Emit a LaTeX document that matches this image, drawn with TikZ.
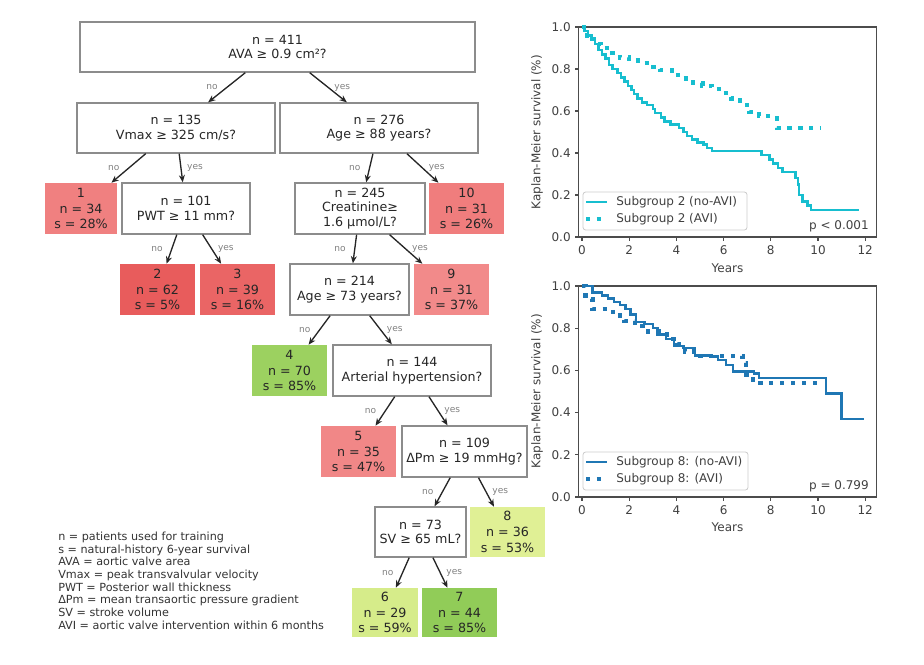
\documentclass[tikz,border=0pt]{standalone}
\usepackage{fontspec}
\setmainfont{DejaVu Sans}
\usetikzlibrary{arrows.meta, positioning, calc}
\definecolor{LeafRed28}{HTML}{F08080}
\definecolor{LeafRed05}{HTML}{E85C5C}
\definecolor{LeafRed16}{HTML}{EA6565}
\definecolor{LeafRed26}{HTML}{F07D7D}
\definecolor{LeafRed37}{HTML}{F28A8A}
\definecolor{LeafRed47}{HTML}{F18787}
\definecolor{LeafGreen85}{HTML}{9CD160}
\definecolor{LeafGreen85b}{HTML}{91CC58}
\definecolor{LeafLime59}{HTML}{D6EC8A}
\definecolor{LeafLime53}{HTML}{E0F095}
\definecolor{KMCyan}{HTML}{17BECF}
\definecolor{KMBlue}{HTML}{1F77B4}

\begin{document}
\begin{tikzpicture}[x=0.75pt, y=-0.75pt, >={Stealth[length=5.5pt, width=4.5pt]},
    decbox/.style={draw=black!45, line width=1pt, fill=white, align=center, inner sep=0pt,
                   text=black!85, font=\fontsize{9.5pt}{11pt}\selectfont},
    leafbox/.style={align=center, inner sep=0pt, text=black!85, font=\fontsize{9.5pt}{11.8pt}\selectfont},
    wh/.style 2 args={minimum width=#1*0.75pt, minimum height=#2*0.75pt},
    split/.style={->, line width=1pt, black!85},
    nolbl/.style={midway, xshift=-11pt, inner sep=0pt, font=\fontsize{6.8pt}{7pt}\selectfont, text=black!50},
    yeslbl/.style={midway, xshift=10.5pt, inner sep=0pt, font=\fontsize{6.8pt}{7pt}\selectfont, text=black!50},
    legtext/.style={anchor=west, inner sep=0pt, text=black!80, font=\fontsize{8.4pt}{9.5pt}\selectfont},
    frame/.style={black!70, line width=0.8pt},
    ticklbl/.style={inner sep=0pt, text=black!75, font=\fontsize{9pt}{10pt}\selectfont},
    kmsolid/.style={line width=1.8pt},
    kmdots/.style={line width=3.2pt, dash pattern=on 3.2pt off 5pt},
    legbox/.style={draw=black!20, fill=white, rounded corners=2pt, line width=0.6pt}]
    \useasboundingbox (0,0) rectangle (924,664);

    % Decision nodes
    \node[decbox, wh={395}{50}] (root) at (277.5,47) {n = 411\\AVA ≥ 0.9 cm²?};
    \node[decbox, wh={198}{50}] (n135) at (176,128) {n = 135\\Vmax ≥ 325 cm/s?};
    \node[decbox, wh={198}{50}] (n276) at (379,128) {n = 276\\Age ≥ 88 years?};
    \node[decbox, wh={128}{51}] (n101) at (186,208.5) {n = 101\\PWT ≥ 11 mm?};
    \node[decbox, wh={130}{51}] (n245) at (360,208.5) {n = 245\\Creatinine≥\\1.6 µmol/L?};
    \node[decbox, wh={119}{51}] (n214) at (349.5,289.5) {n = 214\\Age ≥ 73 years?};
    \node[decbox, wh={158}{51}] (n144) at (412,370.5) {n = 144\\Arterial hypertension?};
    \node[decbox, wh={125}{51}] (n109) at (464.5,451.5) {n = 109\\ΔPm ≥ 19 mmHg?};
    \node[decbox, wh={91}{50}] (n73) at (420.5,532) {n = 73\\SV ≥ 65 mL?};

    % Leaves (subgroups)
    \node[leafbox, fill=LeafRed28, wh={72}{51}] (leaf1) at (81,208.5) {1\\n = 34\\s = 28\%};
    \node[leafbox, fill=LeafRed26, wh={75}{51}] (leaf10) at (466.5,208.5) {10\\n = 31\\s = 26\%};
    \node[leafbox, fill=LeafRed05, wh={75}{51}] (leaf2) at (157.5,289.5) {2\\n = 62\\s = 5\%};
    \node[leafbox, fill=LeafRed16, wh={75}{51}] (leaf3) at (237.5,289.5) {3\\n = 39\\s = 16\%};
    \node[leafbox, fill=LeafRed37, wh={75}{51}] (leaf9) at (451.5,289.5) {9\\n = 31\\s = 37\%};
    \node[leafbox, fill=LeafGreen85, wh={75}{51}] (leaf4) at (289.5,370.5) {4\\n = 70\\s = 85\%};
    \node[leafbox, fill=LeafRed47, wh={75}{51}] (leaf5) at (358.5,451.5) {5\\n = 35\\s = 47\%};
    \node[leafbox, fill=LeafLime53, wh={75}{50}] (leaf8) at (507.5,532) {8\\n = 36\\s = 53\%};
    \node[leafbox, fill=LeafLime59, wh={66}{49}] (leaf6) at (385,612.5) {6\\n = 29\\s = 59\%};
    \node[leafbox, fill=LeafGreen85b, wh={75}{49}] (leaf7) at (459.5,612.5) {7\\n = 44\\s = 85\%};

    % Splits
    \draw[split] (root) -- (n135) node[nolbl] (root-no) {no};
    \draw[split] (root) -- (n276) node[yeslbl] (root-yes) {yes};
    \draw[split] (n135) -- (leaf1) node[nolbl] (n135-no) {no};
    \draw[split] (n135) -- (n101) node[yeslbl] (n135-yes) {yes};
    \draw[split] (n276) -- (n245) node[nolbl] (n276-no) {no};
    \draw[split] (n276) -- (leaf10) node[yeslbl] (n276-yes) {yes};
    \draw[split] (n101) -- (leaf2) node[nolbl] (n101-no) {no};
    \draw[split] (n101) -- (leaf3) node[yeslbl] (n101-yes) {yes};
    \draw[split] (n245) -- (n214) node[nolbl] (n245-no) {no};
    \draw[split] (n245) -- (leaf9) node[yeslbl] (n245-yes) {yes};
    \draw[split] (n214) -- (leaf4) node[nolbl] (n214-no) {no};
    \draw[split] (n214) -- (n144) node[yeslbl] (n214-yes) {yes};
    \draw[split] (n144) -- (leaf5) node[nolbl] (n144-no) {no};
    \draw[split] (n144) -- (n109) node[yeslbl] (n144-yes) {yes};
    \draw[split] (n109) -- (n73) node[nolbl] (n109-no) {no};
    \draw[split] (n109) -- (leaf8) node[yeslbl] (n109-yes) {yes};
    \draw[split] (n73) -- (leaf6) node[nolbl] (n73-no) {no};
    \draw[split] (n73) -- (leaf7) node[yeslbl] (n73-yes) {yes};

    % Abbreviations
    \node[legtext, align=left] (abbrev) at (58,580.5) {n = patients used for training\\
        s = natural-history 6-year survival\\
        AVA = aortic valve area\\
        Vmax = peak transvalvular velocity\\
        PWT = Posterior wall thickness\\
        ΔPm = mean transaortic pressure gradient\\
        SV = stroke volume\\
        AVI = aortic valve intervention within 6 months};

    % Kaplan-Meier, subgroup 2
    \begin{scope}[shift={(582,237)}, x=17.7pt, y=157.5pt]
        \draw[frame] (-0.13,0) rectangle (12.46,1);
        \foreach \k in {0,2,...,12} {
            \draw[frame] (\k,0) -- ++(0,-3pt);
            \node[ticklbl, anchor=north, yshift=-6.5pt] (top-x\k) at (\k,0) {\k};
        }
        \foreach \j/\v in {0/0.0,1/0.2,2/0.4,3/0.6,4/0.8,5/1.0} {
            \draw[frame] (-0.13,\v) -- ++(-3pt,0);
            \node[ticklbl, anchor=east, xshift=-6pt] (top-y\j) at (-0.13,\v) {\v};
        }
        \draw[kmsolid, KMCyan] (0,1) -| (0.1,0.98) -| (0.25,0.96) -| (0.4,0.94) -| (0.55,0.92)
            -| (0.7,0.89) -| (0.85,0.87) -| (1.0,0.85) -| (1.15,0.82) -| (1.3,0.80) -| (1.5,0.78)
            -| (1.65,0.76) -| (1.8,0.74) -| (1.95,0.72) -| (2.1,0.70) -| (2.2,0.68) -| (2.35,0.66)
            -| (2.55,0.64) -| (2.75,0.63) -| (3.0,0.61) -| (3.1,0.59) -| (3.35,0.57) -| (3.5,0.55)
            -| (3.75,0.535) -| (4.1,0.52) -| (4.3,0.50) -| (4.45,0.48) -| (4.65,0.465) -| (4.9,0.45)
            -| (5.15,0.44) -| (5.3,0.425) -| (5.5,0.41) -| (7.6,0.39) -| (7.95,0.37) -| (8.1,0.35)
            -| (8.3,0.33) -| (8.5,0.31) -| (9.05,0.28) -| (9.15,0.25) -| (9.2,0.20) -| (9.35,0.17)
            -| (9.55,0.15) -| (9.7,0.13) -- (11.72,0.13);
        \draw[kmdots, KMCyan] (0,1) -| (0.2,0.96) -| (0.5,0.92) -| (0.8,0.90) -| (1.2,0.875)
            -| (1.6,0.855) -| (2.0,0.84) -| (2.5,0.83) -| (2.9,0.81) -| (3.3,0.795) -| (3.8,0.77)
            -| (4.3,0.755) -| (4.7,0.735) -| (5.1,0.72) -| (5.5,0.705) -| (5.9,0.685) -| (6.3,0.66)
            -| (6.7,0.63) -| (7.1,0.595) -| (7.5,0.575) -| (8.0,0.565) -| (8.25,0.52) -- (10.1,0.52);
    \end{scope}
    \node[ticklbl, rotate=90] (top-ylab) at (537,132) {Kaplan-Meier survival (\%)};
    \node[ticklbl] (top-xlab) at (727.5,268) {Years};
    \node[legbox, wh={164}{38}] (top-leg) at (665,211) {};
    \draw[kmsolid, KMCyan] (586,202) -- (607,202);
    \draw[kmdots, KMCyan] (586,219) -- (607,219);
    \node[ticklbl, anchor=west] (top-leg-a) at (616,202) {Subgroup 2 (no-AVI)};
    \node[ticklbl, anchor=west] (top-leg-b) at (616,219) {Subgroup 2 (AVI)};
    \node[ticklbl, anchor=east] (top-p) at (869,226) {p < 0.001};

    % Kaplan-Meier, subgroup 8
    \begin{scope}[shift={(582,497)}, x=17.7pt, y=158.25pt]
        \draw[frame] (-0.13,0) rectangle (12.46,1);
        \foreach \k in {0,2,...,12} {
            \draw[frame] (\k,0) -- ++(0,-3pt);
            \node[ticklbl, anchor=north, yshift=-6.5pt] (bot-x\k) at (\k,0) {\k};
        }
        \foreach \j/\v in {0/0.0,1/0.2,2/0.4,3/0.6,4/0.8,5/1.0} {
            \draw[frame] (-0.13,\v) -- ++(-3pt,0);
            \node[ticklbl, anchor=east, xshift=-6pt] (bot-y\j) at (-0.13,\v) {\v};
        }
        \draw[kmsolid, KMBlue] (0,1) -| (0.45,0.97) -| (0.85,0.955) -| (1.1,0.94) -| (1.35,0.925)
            -| (1.6,0.91) -| (1.85,0.89) -| (2.05,0.865) -| (2.3,0.83) -| (2.65,0.82) -| (3.0,0.80)
            -| (3.2,0.77) -| (3.55,0.75) -| (3.9,0.715) -| (4.3,0.705) -| (4.8,0.67) -| (5.5,0.665)
            -| (5.75,0.65) -| (6.1,0.625) -| (6.4,0.595) -| (7.3,0.585) -| (7.5,0.565) -| (10.35,0.49)
            -| (11.0,0.37) -- (11.93,0.37);
        \draw[kmdots, KMBlue] (0,1) -| (0.15,0.94) -| (0.45,0.89) -| (1.3,0.86) -| (1.8,0.835)
            -| (2.25,0.81) -| (2.8,0.785) -| (3.6,0.75) -| (4.05,0.725) -| (4.35,0.69) -| (4.85,0.67)
            -| (6.8,0.635) -| (6.95,0.58) -| (7.25,0.54) -- (10.2,0.54);
    \end{scope}
    \node[ticklbl, rotate=90] (bot-ylab) at (537,391) {Kaplan-Meier survival (\%)};
    \node[ticklbl] (bot-xlab) at (727.5,527) {Years};
    \node[legbox, wh={165}{38}] (bot-leg) at (665.5,471) {};
    \draw[kmsolid, KMBlue] (586,462) -- (607,462);
    \draw[kmdots, KMBlue] (586,479) -- (607,479);
    \node[ticklbl, anchor=west] (bot-leg-a) at (616,462) {Subgroup 8: (no-AVI)};
    \node[ticklbl, anchor=west] (bot-leg-b) at (616,479) {Subgroup 8: (AVI)};
    \node[ticklbl, anchor=east] (bot-p) at (869,486) {p = 0.799};
\end{tikzpicture}
\end{document}
